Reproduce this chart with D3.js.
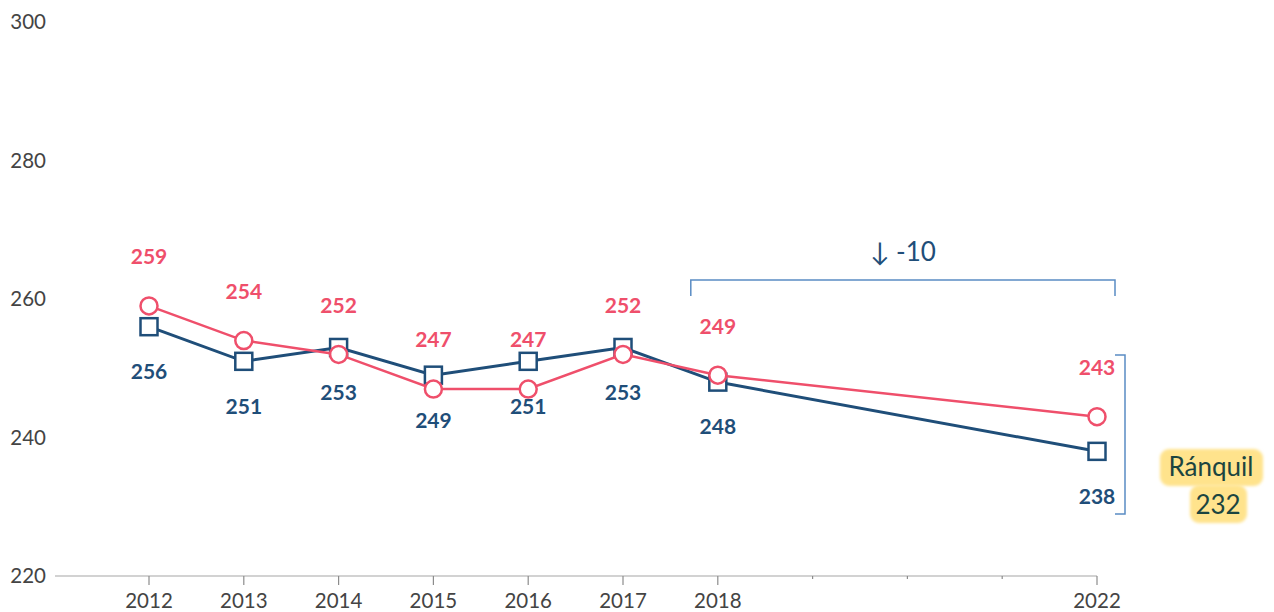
<!DOCTYPE html>
<html>

<head>
    <meta http-equiv="Content-Type" content="text/html;" charset="utf-8">
    <script type="text/javascript" src="https://cdn.jsdelivr.net/npm/d3@7"></script>
    <style>
        body { margin: 0; background: #fff; }
        text { font-family: Lato, "Open Sans", sans-serif; }
    </style>
</head>

<body>
    <div class="chart-div"></div>
    <script type="text/javascript">

        var width = 1274;
        var height = 612;

        //--------------------------------------------DATA

        var years = [2012, 2013, 2014, 2015, 2016, 2017, 2018, 2022];
        var redValues = [259, 254, 252, 247, 247, 252, 249, 243];
        var blueValues = [256, 251, 253, 249, 251, 253, 248, 238];
        var yTicks = [220, 240, 260, 280, 300];
        var minorYears = [2019, 2020, 2021];
        var changeLabel = "-10";
        var communeName = "Ránquil";
        var communeValue = "232";

        var red = "#ef4f6b";
        var navy = "#1f4e79";

        //--------------------------------------------CONTAINERS

        var svg = d3.select("div.chart-div")
            .append("svg")
            .attr("width", width)
            .attr("height", height);

        var defs = svg.append("defs");
        defs.append("filter")
            .attr("id", "soft")
            .attr("x", "-20%").attr("y", "-20%")
            .attr("width", "140%").attr("height", "140%")
            .append("feGaussianBlur")
            .attr("stdDeviation", 1.6);

        var x = d3.scaleLinear().domain([2012, 2022]).range([149, 1097]);
        var y = d3.scaleLinear().domain([220, 300]).range([576, 22]);

        //--------------------------------------------AXES

        var axisG = svg.append("g");

        axisG.append("line")
            .attr("x1", 55)
            .attr("x2", x(2022))
            .attr("y1", y(220))
            .attr("y2", y(220))
            .attr("stroke", "#a6a6a6")
            .attr("stroke-width", 1.2);

        axisG.selectAll(".major")
            .data(years)
            .enter().append("line")
            .attr("x1", function (d) { return x(d); })
            .attr("x2", function (d) { return x(d); })
            .attr("y1", y(220))
            .attr("y2", y(220) + 9)
            .attr("stroke", "#8c8c8c")
            .attr("stroke-width", 1.2);

        axisG.selectAll(".minor")
            .data(minorYears)
            .enter().append("line")
            .attr("x1", function (d) { return x(d); })
            .attr("x2", function (d) { return x(d); })
            .attr("y1", y(220))
            .attr("y2", y(220) + 3)
            .attr("stroke", "#8c8c8c")
            .attr("stroke-width", 1.2);

        axisG.selectAll(".xlab")
            .data(years)
            .enter().append("text")
            .attr("x", function (d) { return x(d); })
            .attr("y", 608)
            .attr("text-anchor", "middle")
            .attr("font-size", 20.5)
            .style("fill", "#444")
            .text(function (d) { return d; });

        axisG.selectAll(".ylab")
            .data(yTicks)
            .enter().append("text")
            .attr("x", 46)
            .attr("y", function (d) { return y(d); })
            .attr("dy", "0.35em")
            .attr("text-anchor", "end")
            .attr("font-size", 20.5)
            .style("fill", "#444")
            .text(function (d) { return d; });

        //--------------------------------------------ANNOTATIONS

        var ann = svg.append("g");

        // top bracket 2018 -> 2022
        ann.append("path")
            .attr("d", "M" + (x(2018) - 27) + "," + 296 + "V" + 280 + "H" + (x(2022) + 18) + "V" + 296)
            .attr("fill", "none")
            .attr("stroke", "#5a8cc4")
            .attr("stroke-width", 1.5);

        var midX = (x(2018) - 27 + x(2022) + 18) / 2;

        ann.append("text")
            .attr("x", midX)
            .attr("y", 252)
            .attr("dy", "0.35em")
            .attr("text-anchor", "middle")
            .attr("font-size", 26)
            .style("fill", navy)
            .text("\u2193 " + changeLabel);

        // right bracket
        ann.append("path")
            .attr("d", "M" + (x(2022) + 18) + "," + 355 + "H" + (x(2022) + 28) + "V" + 514 + "H" + (x(2022) + 18))
            .attr("fill", "none")
            .attr("stroke", "#5a8cc4")
            .attr("stroke-width", 1.5);

        // commune highlight
        ann.append("rect")
            .attr("x", 1160).attr("y", 449)
            .attr("width", 103).attr("height", 37)
            .attr("rx", 9)
            .attr("fill", "#ffe38c")
            .attr("filter", "url(#soft)");
        ann.append("rect")
            .attr("x", 1190).attr("y", 485)
            .attr("width", 57).attr("height", 38)
            .attr("rx", 9)
            .attr("fill", "#ffe38c")
            .attr("filter", "url(#soft)");

        ann.append("text")
            .attr("x", 1211)
            .attr("y", 467)
            .attr("dy", "0.35em")
            .attr("text-anchor", "middle")
            .attr("font-size", 26)
            .style("fill", "#1b4540")
            .text(communeName);

        ann.append("text")
            .attr("x", 1218)
            .attr("y", 505)
            .attr("dy", "0.35em")
            .attr("text-anchor", "middle")
            .attr("font-size", 26)
            .style("fill", "#1b4540")
            .text(communeValue);

        //--------------------------------------------SERIES

        var blueData = years.map(function (d, i) { return { year: d, value: blueValues[i] }; });
        var redData = years.map(function (d, i) { return { year: d, value: redValues[i] }; });

        var theline = d3.line()
            .x(function (d) { return x(d.year); })
            .y(function (d) { return y(d.value); });

        var blueG = svg.append("g");
        var redG = svg.append("g");

        blueG.append("path")
            .attr("d", theline(blueData))
            .attr("fill", "none")
            .attr("stroke", navy)
            .attr("stroke-width", 3);

        blueG.selectAll("rect")
            .data(blueData)
            .enter().append("rect")
            .attr("x", function (d) { return x(d.year) - 8.5; })
            .attr("y", function (d) { return y(d.value) - 8.5; })
            .attr("width", 17)
            .attr("height", 17)
            .attr("fill", "#fff")
            .attr("stroke", navy)
            .attr("stroke-width", 2.5);

        blueG.selectAll("text")
            .data(blueData)
            .enter().append("text")
            .attr("x", function (d) { return x(d.year); })
            .attr("y", function (d) { return y(d.value) + 45; })
            .attr("dy", "0.35em")
            .attr("text-anchor", "middle")
            .attr("font-size", 21)
            .attr("font-weight", "bold")
            .style("fill", navy)
            .text(function (d) { return d.value; });

        redG.append("path")
            .attr("d", theline(redData))
            .attr("fill", "none")
            .attr("stroke", red)
            .attr("stroke-width", 2.5);

        redG.selectAll("circle")
            .data(redData)
            .enter().append("circle")
            .attr("cx", function (d) { return x(d.year); })
            .attr("cy", function (d) { return y(d.value); })
            .attr("r", 8.5)
            .attr("fill", "#fff")
            .attr("stroke", red)
            .attr("stroke-width", 2.5);

        redG.selectAll("text")
            .data(redData)
            .enter().append("text")
            .attr("x", function (d) { return x(d.year); })
            .attr("y", function (d) { return y(d.value) - 49; })
            .attr("dy", "0.35em")
            .attr("text-anchor", "middle")
            .attr("font-size", 21)
            .attr("font-weight", "bold")
            .style("fill", red)
            .text(function (d) { return d.value; });

    </script>

</body>

</html>
